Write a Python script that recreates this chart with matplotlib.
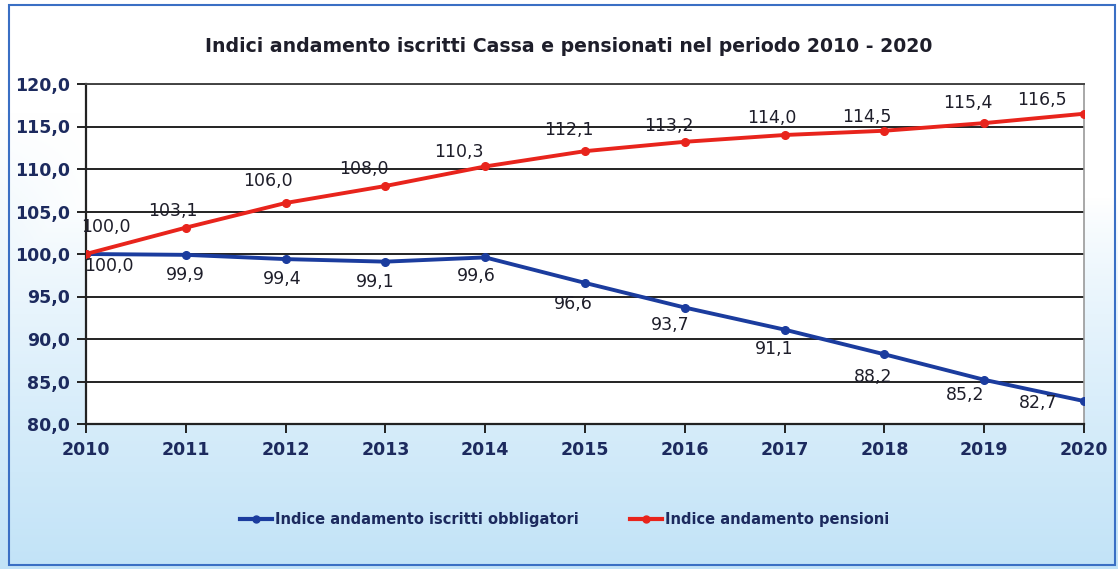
import numpy as np
import matplotlib
matplotlib.use('Agg')
import matplotlib.pyplot as plt
from matplotlib.lines import Line2D
from matplotlib.patches import Rectangle

# === DATA ===
years = [2010, 2011, 2012, 2013, 2014, 2015, 2016, 2017, 2018, 2019, 2020]
iscritti = [100.0, 99.9, 99.4, 99.1, 99.6, 96.6, 93.7, 91.1, 88.2, 85.2, 82.7]
pensioni = [100.0, 103.1, 106.0, 108.0, 110.3, 112.1, 113.2, 114.0, 114.5, 115.4, 116.5]
yticks = [80, 85, 90, 95, 100, 105, 110, 115, 120]

title = 'Indici andamento iscritti Cassa e pensionati nel periodo 2010 - 2020'
label_iscritti = 'Indice andamento iscritti obbligatori'
label_pensioni = 'Indice andamento pensioni'

# label offsets in pixels (dx, dy), y upward
off_pens = [(20, 27), (-13, 17), (-18, 22), (-22, 17), (-26, 14), (-16, 21),
            (-16, 16), (-13, 17), (-18, 14), (-16, 20), (-42, 14)]
off_isc = [(23, -12), (0, -20), (-3, -20), (-10, -20), (-9, -19), (-12, -21),
           (-15, -17), (-10, -19), (-11, -23), (-19, -15), (-46, -2)]

RED = '#e8241c'
BLUE = '#1b3c9e'
NAVY = '#1c2a5e'
TXT = '#1e1e2a'

def fmt(v):
    return f'{v:.1f}'.replace('.', ',')

fig = plt.figure(figsize=(11.18, 5.69), dpi=100)

# background gradient
bg = fig.add_axes([0, 0, 1, 1], zorder=-10)
h = np.linspace(0, 1, 300)[:, None]
w = np.linspace(0, 1, 400)[None, :]
t = np.clip((h - 0.35) / 0.65, 0, 1) ** 0.8
t = np.maximum(t, np.clip((0.09 - w) / 0.09, 0, 1) * 0.6 * np.clip((h - 0.2) / 0.5, 0, 1))
top = np.array([1.0, 1.0, 1.0])
bot = np.array([0.76, 0.89, 0.97])
img = top[None, None, :] * (1 - t[..., None]) + bot[None, None, :] * t[..., None]
bg.imshow(img, extent=[0, 1, 0, 1], aspect='auto', origin='upper')
bg.set_xlim(0, 1)
bg.set_ylim(0, 1)
bg.axis('off')
# outer frame
bg.add_patch(Rectangle((9 / 1118, 4 / 569), 1106 / 1118, 560 / 569, fill=False,
                       edgecolor='#3a6fc4', linewidth=1.5))

ax = fig.add_axes([86 / 1118, 145 / 569, 998 / 1118, 340 / 569])
ax.set_facecolor('white')

ax.plot(years, iscritti, color=BLUE, linewidth=2.8, marker='o', markersize=5.5, zorder=3)
ax.plot(years, pensioni, color=RED, linewidth=2.8, marker='o', markersize=5.5, zorder=3)

px = 0.72  # points per pixel at 100 dpi
for x, v, (dx, dy) in zip(years, pensioni, off_pens):
    ax.annotate(fmt(v), (x, v), xytext=(dx * px, dy * px), textcoords='offset points',
                ha='center', va='center', fontsize=12.5, color=TXT, zorder=4,
                annotation_clip=False)
for x, v, (dx, dy) in zip(years, iscritti, off_isc):
    ax.annotate(fmt(v), (x, v), xytext=(dx * px, dy * px), textcoords='offset points',
                ha='center', va='center', fontsize=12.5, color=TXT, zorder=4,
                annotation_clip=False)

ax.set_xlim(2010, 2020)
ax.set_ylim(80, 120)
ax.set_yticks(yticks)
ax.set_yticklabels([fmt(v) for v in yticks], fontsize=12.5, fontweight='bold', color=NAVY)
ax.set_xticks(years)
ax.set_xticklabels([str(y) for y in years], fontsize=12.5, fontweight='bold', color=NAVY)
ax.grid(axis='y', color='#222222', linewidth=1.4)
ax.set_axisbelow(True)
ax.tick_params(axis='both', length=6.5, width=1.4, color='#222222', direction='out')
ax.tick_params(axis='x', pad=6)
ax.tick_params(axis='y', pad=5)
for s in ['left', 'bottom']:
    ax.spines[s].set_color('#222222')
    ax.spines[s].set_linewidth(1.6)
ax.spines['top'].set_color('#444444')
ax.spines['top'].set_linewidth(1.4)
ax.spines['right'].set_color('#999999')
ax.spines['right'].set_linewidth(1.2)

fig.text(0.5085, 0.919, title, ha='center', va='center', fontsize=13.6,
         fontweight='bold', color=TXT)

handles = [Line2D([], [], color=BLUE, linewidth=3, marker='o', markersize=5),
           Line2D([], [], color=RED, linewidth=3, marker='o', markersize=5)]
fig.legend(handles, [label_iscritti, label_pensioni], loc='center',
           bbox_to_anchor=(0.505, 0.087), ncol=2, frameon=False, handlelength=2.2,
           handletextpad=0.2, columnspacing=3.5,
           prop={'size': 10.5, 'weight': 'bold'}, labelcolor=NAVY)

fig.savefig('out.png', dpi=100)
